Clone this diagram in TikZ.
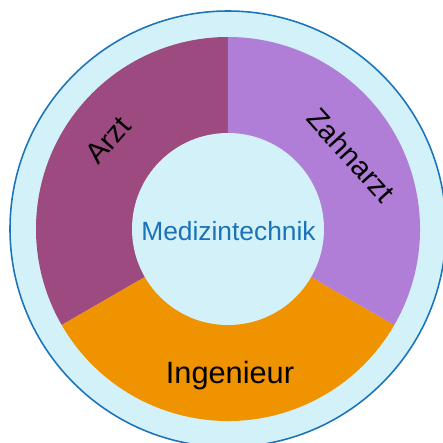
\documentclass[tikz,border=0pt]{standalone}
\usepackage{fontspec}
\setmainfont{Liberation Sans}
\usepackage{tikz}
\usetikzlibrary{calc}
\definecolor{ringblue}{HTML}{D3F1F8}
\definecolor{rimblue}{HTML}{1C75BC}
\definecolor{arztcol}{HTML}{9C4A80}
\definecolor{zahncol}{HTML}{B07ED6}
\definecolor{ingcol}{HTML}{F09300}
\definecolor{titleblue}{HTML}{1A72B8}
\tikzset{
    rim/.style={fill=ringblue, draw=rimblue, line width=0.9pt},
    hub/.style={fill=ringblue},
    sector/.style={align=center, inner sep=0pt, text=black, font=\fontsize{16.5}{19}\selectfont},
    title/.style={inner sep=0pt, text=titleblue, font=\fontsize{15}{18}\selectfont}
}

\begin{document}
\begin{tikzpicture}[x=0.02cm, y=0.02cm]
    \useasboundingbox (-228,-214) rectangle (215,229);

    \coordinate (M) at (0,0);

    % outer ring
    \draw[rim] (M) circle (218);

    % the three fields
    \foreach \a/\col in {90/arztcol, 210/ingcol, 330/zahncol}{
        \fill[\col] (M) -- (\a:192) arc[start angle=\a, delta angle=120, radius=192] -- cycle;
    }

    % inner disc
    \fill[hub] (M) circle (96);

    \node[title, anchor=base] (medtech) at (0.5,-11) {Medizintechnik};
    \node[sector, rotate=49] (arzt) at (-120,89) {Arzt};
    \node[sector, rotate=-48] (zahnarzt) at (123,74) {Zahnarzt};
    \node[sector, anchor=base, font=\fontsize{17.5}{21}\selectfont] (ingenieur) at (2,-154) {Ingenieur};
\end{tikzpicture}
\end{document}
